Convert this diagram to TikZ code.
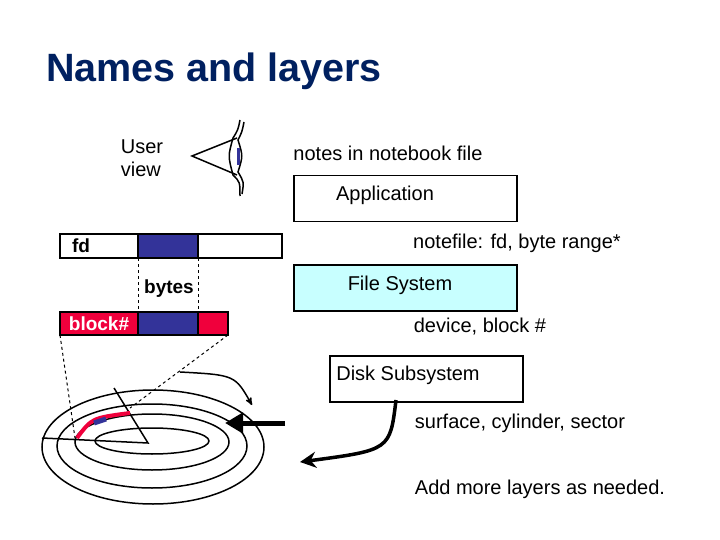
\documentclass[tikz,border=0pt]{standalone}
\usepackage{fontspec}
\setmainfont{Liberation Sans}
\usetikzlibrary{arrows,arrows.meta}
\definecolor{navy}{RGB}{0,32,96}
\definecolor{blk}{RGB}{51,51,153}
\definecolor{rd}{RGB}{240,0,60}
\definecolor{cy}{RGB}{200,255,255}
\begin{document}
\begin{tikzpicture}[x=1pt,y=-1pt,line width=1.5pt,lbl/.style={font=\fontsize{20}{23}\selectfont,inner sep=0pt},
  layer/.style={draw,minimum height=46pt,anchor=north west}]
  \useasboundingbox (0,0) rectangle (720,540);
  \node[anchor=base west,text=navy,font=\fontsize{39.5}{42}\selectfont\bfseries] (title) at (42,82) {Names and layers};
  \node[lbl,align=left] (user) at (142,158) {User\\view};
  % eye
  \draw (237,138) -- (192,156) -- (237,175);
  \draw (240,120) .. controls (238,130) .. (233,138) .. controls (228,156) .. (233,175) .. controls (240,182) .. (240,196);
  \draw (244,122) .. controls (242,132) .. (238,140) .. controls (243,156) .. (238,172) .. controls (244,182) .. (242,194);
  \fill[blk] (237,148) rectangle (240,165);
  % layers
  \node[lbl] (notes) at (388,153) {notes in notebook file};
  \node[layer,minimum width=223pt] (app) at (293,175) {};
  \node[lbl] at (385,195) {Application};
  \node[lbl] (nf) at (517,243) {notefile: fd, byte range*};
  \node[layer,minimum width=223pt,fill=cy] (fs) at (293,264) {};
  \node[lbl] at (400,285) {File System};
  \node[lbl] (dev) at (480,327) {device, block \#};
  \node[layer,minimum width=193pt] (disk) at (329,355) {};
  \node[lbl] at (408,375) {Disk Subsystem};
  \node[lbl] (surf) at (520,423) {surface, cylinder, sector};
  \node[lbl] (more) at (540,489) {Add more layers as needed.};
  % bars
  \draw (60,234) rectangle (282,258);
  \fill[blk] (138,235) rectangle (198,257);
  \draw (138,234) -- (138,258) (198,234) -- (198,258);
  \node[lbl,font=\fontsize{19}{22}\selectfont\bfseries] (fd) at (81,246) {fd};
  \draw[dashed,line width=1pt] (138,258) -- (138,312) (198,258) -- (198,312);
  \node[lbl,font=\fontsize{19}{22}\selectfont\bfseries] (bytes) at (169,289) {bytes};
  \fill[rd] (60,312) rectangle (228,335);
  \fill[blk] (138,312) rectangle (198,335);
  \draw (60,312) rectangle (228,335) (138,312) -- (138,335) (198,312) -- (198,335);
  \node[lbl,text=white,font=\fontsize{19}{22}\selectfont\bfseries] (block) at (99,324) {block\#};
  % disk
  \draw (153,447) ellipse [x radius=111,y radius=57];
  \draw (152,446) ellipse [x radius=95,y radius=42];
  \draw (152,442) ellipse [x radius=77,y radius=28];
  \draw (152,441) ellipse [x radius=57,y radius=13];
  \draw (42,438) -- (148,443) -- (114,388);
  \draw[rd,line width=4pt] (77,438) .. controls (92,418) .. (130,413);
  \draw[blk,line width=5pt] (94,423) -- (106,419);
  \draw[dashed,line width=1pt] (60,335) -- (75,438) (228,335) -- (130,408);
  \draw[->,>=stealth'] (180,372) .. controls (235,375) .. (252,405);
  \draw[line width=5pt,-{Triangle[length=18pt,width=20pt]}] (285,423) -- (225,423);
  \draw[line width=3.5pt,-{Stealth[length=16pt,width=16pt]}] (396,400) .. controls (390,450) .. (300,462);
\end{tikzpicture}
\end{document}
